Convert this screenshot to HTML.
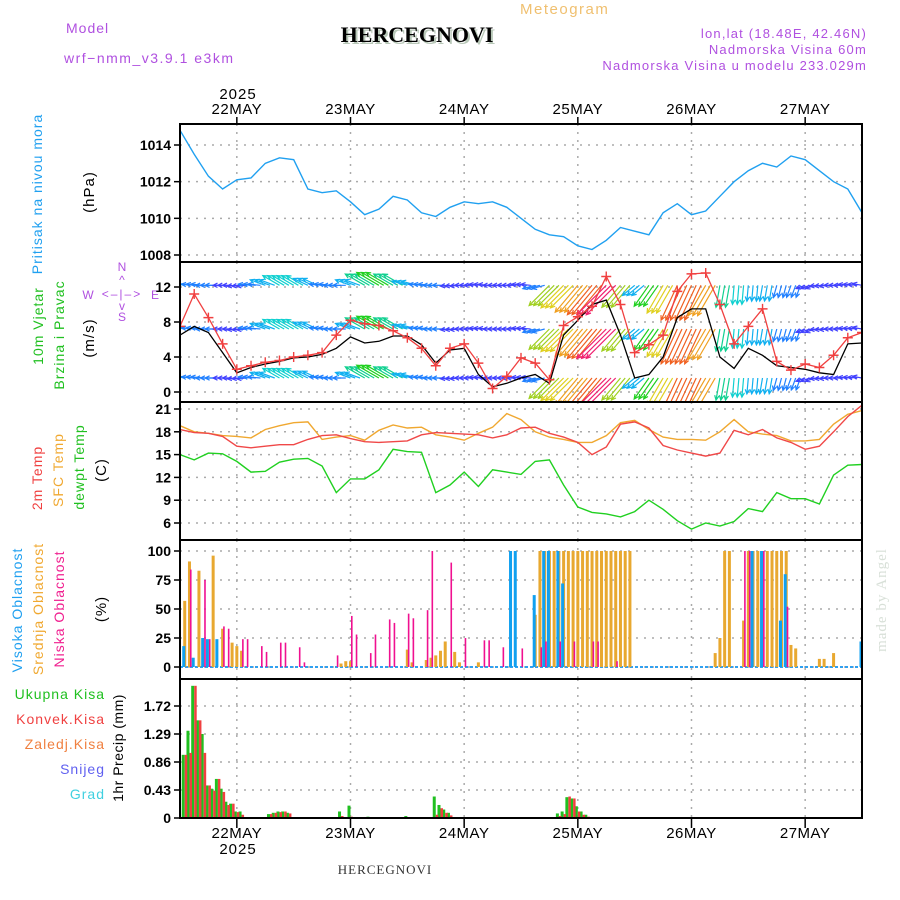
<!DOCTYPE html>
<html><head><meta charset="utf-8">
<style>
html,body{margin:0;padding:0;background:#fff;}
svg{display:block;font-family:"Liberation Sans",sans-serif;}
</style></head>
<body>
<svg id="chart" width="900" height="900" viewBox="0 0 900 900" xmlns="http://www.w3.org/2000/svg">
<rect x="0" y="0" width="900" height="900" fill="#fff"/>
<text x="66" y="33" fill="#b050e0" font-size="14" letter-spacing="1">Model</text>
<text x="64" y="63" fill="#b050e0" font-size="14" letter-spacing="1.5">wrf−nmm_v3.9.1  e3km</text>
<text x="419" y="44" fill="#b8c8b8" font-size="22" font-weight="bold" font-family="Liberation Serif,serif" text-anchor="middle">HERCEGNOVI</text>
<text x="417" y="42" fill="#000" font-size="22" font-weight="bold" font-family="Liberation Serif,serif" text-anchor="middle">HERCEGNOVI</text>
<text x="520" y="14" fill="#f0c070" font-size="15" letter-spacing="1.5">Meteogram</text>
<text x="867" y="38" fill="#b050e0" font-size="13" letter-spacing="1.2" text-anchor="end">lon,lat (18.48E, 42.46N)</text>
<text x="867" y="54" fill="#b050e0" font-size="13" letter-spacing="1.2" text-anchor="end">Nadmorska Visina 60m</text>
<text x="867" y="70" fill="#b050e0" font-size="13" letter-spacing="1.2" text-anchor="end">Nadmorska Visina u modelu 233.029m</text>
<text x="238" y="99" fill="#000" font-size="15" text-anchor="middle" letter-spacing="1">2025</text>
<text transform="translate(42,194) rotate(-90)" fill="#20a0f0" font-size="14" text-anchor="middle" letter-spacing="1">Pritisak na nivou mora</text>
<text transform="translate(94,192) rotate(-90)" fill="#000" font-size="15" text-anchor="middle" letter-spacing="1">(hPa)</text>
<text transform="translate(43,326) rotate(-90)" fill="#20c020" font-size="14" text-anchor="middle" letter-spacing="1">10m Vjetar</text>
<text transform="translate(64,335) rotate(-90)" fill="#20c020" font-size="14" text-anchor="middle" letter-spacing="1">Brzina i Pravac</text>
<text transform="translate(94,338) rotate(-90)" fill="#000" font-size="15" text-anchor="middle" letter-spacing="1">(m/s)</text>
<g fill="#b050e0" font-size="12" text-anchor="middle">
<text x="122" y="271">N</text><text x="88" y="299">W</text><text x="155" y="299">E</text><text x="122" y="321">S</text>
<text x="122" y="284">^</text><text x="122" y="310">v</text>
<text x="122" y="298" letter-spacing="2">&lt;–|–&gt;</text>
</g>
<text transform="translate(42,478) rotate(-90)" fill="#f04040" font-size="14" text-anchor="middle" letter-spacing="1">2m Temp</text>
<text transform="translate(63,470) rotate(-90)" fill="#f0a830" font-size="14" text-anchor="middle" letter-spacing="1">SFC Temp</text>
<text transform="translate(84,467) rotate(-90)" fill="#20c020" font-size="14" text-anchor="middle" letter-spacing="1">dewpt Temp</text>
<text transform="translate(106,470) rotate(-90)" fill="#000" font-size="15" text-anchor="middle" letter-spacing="1">(C)</text>
<text transform="translate(22,610) rotate(-90)" fill="#20a0f0" font-size="14" text-anchor="middle" letter-spacing="1">Visoka Oblacnost</text>
<text transform="translate(43,609) rotate(-90)" fill="#f0a830" font-size="14" text-anchor="middle" letter-spacing="1">Srednja Oblacnost</text>
<text transform="translate(64,609) rotate(-90)" fill="#f02090" font-size="14" text-anchor="middle" letter-spacing="1">Niska Oblacnost</text>
<text transform="translate(106,609) rotate(-90)" fill="#000" font-size="15" text-anchor="middle" letter-spacing="1">(%)</text>
<g font-size="14" text-anchor="end" letter-spacing="1">
<text x="105" y="699" fill="#20c020">Ukupna Kisa</text>
<text x="105" y="724" fill="#f04040">Konvek.Kisa</text>
<text x="105" y="749" fill="#f08040">Zaledj.Kisa</text>
<text x="105" y="774" fill="#6060f0">Snijeg</text>
<text x="105" y="799" fill="#40d0e0">Grad</text>
</g>
<text transform="translate(123,748) rotate(-90)" fill="#000" font-size="14" text-anchor="middle" letter-spacing="0.5">1hr Precip (mm)</text>
<text x="238" y="854" fill="#000" font-size="15" text-anchor="middle" letter-spacing="1">2025</text>
<text x="385" y="874" fill="#333" font-size="13" font-family="Liberation Serif,serif" text-anchor="middle" letter-spacing="1">HERCEGNOVI</text>
<text transform="translate(886,600) rotate(-90)" fill="#d8e0d8" font-size="15" font-family="Liberation Serif,serif" text-anchor="middle" letter-spacing="1">made by Angel</text>
<g id="plots"></g>
</svg>
<script>
const dayLabels = ["22MAY","23MAY","24MAY","25MAY","26MAY","27MAY"];
const dayHours = [12,36,60,84,108,132];
const stepHours = 3;
const pressure = [1014.8,1013.5,1012.3,1011.6,1012.1,1012.2,1013.0,1013.3,1013.2,1011.6,1011.4,1011.5,1010.9,1010.2,1010.5,1011.2,1011.0,1010.3,1010.1,1010.6,1010.9,1010.8,1010.9,1010.6,1010.0,1009.4,1009.1,1009.0,1008.5,1008.3,1008.8,1009.5,1009.3,1009.1,1010.3,1010.8,1010.2,1010.4,1011.2,1012.0,1012.6,1013.0,1012.8,1013.4,1013.2,1012.6,1012.0,1011.6,1010.3];
const pressureTicks = [1008,1010,1012,1014];
const windSpeed = [7.5,11.2,8.5,5.5,2.6,3.0,3.4,3.6,4.0,4.2,4.5,6.5,8.2,7.8,7.6,7.0,6.2,5.0,3.0,5.0,5.5,3.3,0.4,1.8,3.9,3.3,1.4,7.6,8.6,9.8,13.2,10.0,4.5,5.4,6.5,11.5,13.5,13.6,10.0,5.5,7.5,9.5,3.5,2.5,3.2,2.8,4.2,6.2,6.8];
const windGust = [6.5,7.5,6.8,4.5,2.2,2.8,3.2,3.5,3.9,4.0,4.3,5.0,6.3,5.6,5.8,6.4,6.4,5.4,3.3,4.8,5.0,2.0,0.6,1.0,1.6,2.0,1.0,6.5,8.2,10.0,10.5,6.5,1.6,2.0,4.0,8.5,9.5,9.5,4.0,2.7,5.0,4.2,3.0,2.8,2.6,2.2,2.0,5.5,5.6];
const windDir = [170,175,180,180,185,175,160,150,150,155,175,180,160,150,150,150,165,175,180,185,180,175,180,180,175,195,225,225,230,230,225,230,220,235,240,245,245,240,260,265,265,260,255,250,200,185,180,175,170];
const windMag = [5,4,4,3,3,4,5,6,6,5,4,4,5,7,8,7,5,4,4,3,3,3,3,3,3,4,9,10,11,12,13,9,5,8,10,12,12,11,7,6,5,5,4,4,3,3,3,3,3];
const windRows = [12.2,7.2,1.6];
const windTicks = [0,4,8,12];
const temp2m = [18.3,17.9,17.8,17.4,16.1,15.9,16.1,16.3,16.3,17.0,17.5,17.6,17.1,16.7,16.6,16.7,16.8,17.6,17.9,17.8,17.7,17.6,17.2,17.6,18.5,18.6,17.8,17.3,16.6,15.0,16.0,19.0,19.3,18.5,16.2,15.6,15.2,14.8,15.2,18.2,17.6,18.3,17.2,16.6,15.7,16.1,18.0,20.0,21.5];
const tempSfc = [18.8,18.0,17.8,17.5,17.4,17.2,18.3,18.8,19.2,19.3,17.0,17.3,17.5,16.9,18.2,18.9,18.5,18.6,17.6,17.3,16.9,17.8,18.6,20.4,19.6,18.0,17.3,17.0,16.6,16.6,17.5,19.2,19.5,18.3,17.3,17.0,17.0,16.9,18.0,19.6,18.0,17.7,17.5,16.8,16.8,17.0,19.0,20.3,20.8];
const tempDew = [15.0,14.3,15.2,15.1,14.1,12.7,12.8,14.0,14.4,14.5,13.5,10.0,11.8,11.8,13.0,15.7,15.4,15.3,10.0,11.0,12.7,10.8,13.0,12.7,12.4,14.1,14.3,11.0,8.1,7.4,7.2,6.8,7.5,9.0,7.8,6.3,5.2,6.0,5.6,6.2,7.9,7.5,10.0,9.2,9.2,8.5,12.3,13.6,13.7];
const tempTicks = [6,9,12,15,18,21];
const cloudMidHours = [1,2,4,7,9,11,12,13,34,35,36,48,49,52,53,54,55,56,58,59,63,75,76,77,78,79,80,81,82,83,84,85,86,87,88,89,90,91,92,93,94,95,113,114,115,116,119,120,121,122,124,125,126,127,128,129,130,135,136,138];
const cloudMid = [57,91,83,96,33,21,18,14,3,5,5,15,4,6,8,10,14,22,13,4,4,45,100,100,100,100,100,100,100,100,100,100,100,100,100,100,100,100,100,100,100,100,12,25,100,100,40,100,100,100,100,100,100,100,100,19,16,7,7,12];
const cloudHighHours = [1,3,5,6,8,70,71,75,77,78,80,81,121,123,127,128,144];
const cloudHigh = [18,8,25,24,24,100,100,62,100,100,100,72,100,100,40,80,22];
const cloudLowHours = [2,5,6,9,10,13,14,17,18,21,22,25,26,33,36,37,40,41,44,45,48,49,52,53,57,60,64,65,68,72,76,77,80,83,87,88,92,119,120,123,128];
const cloudLow = [84,75,24,35,33,24,24,18,13,21,21,17,4,10,44,28,12,28,41,38,46,42,49,100,90,25,23,23,17,16,17,22,22,22,22,22,5,100,100,100,52];
const cloudTicks = [0,25,50,75,100];
const precipHours = [1,2,3,4,5,6,7,8,9,10,11,12,13,19,20,21,22,23,34,36,40,48,54,55,56,57,80,81,82,83,84,85,86];
const precipTotal = [0.97,1.34,2.03,1.5,1.29,0.5,0.45,0.6,0.45,0.25,0.22,0.1,0.1,0.06,0.08,0.1,0.1,0.08,0.1,0.19,0.02,0.03,0.33,0.2,0.13,0.08,0.07,0.1,0.32,0.3,0.18,0.1,0.05];
const precipConv = [0.97,1.0,2.03,1.5,1.0,0.5,0.42,0.6,0.4,0.2,0.22,0.09,0.05,0.06,0.08,0.09,0.1,0.07,0.03,0.02,0.0,0.0,0.05,0.15,0.08,0.04,0.03,0.06,0.33,0.3,0.1,0.05,0.02];
const precipTicks = [0,0.43,0.86,1.29,1.72];
const precipTickLabels = ["0","0.43","0.86","1.29","1.72"];

const X0 = 180, X1 = 862, HOURS = 144;
const NS = "http://www.w3.org/2000/svg";
const root = document.getElementById("plots");
function xh(h){ return X0 + (X1 - X0) * h / HOURS; }
function lin(d0,d1,r0,r1){ return v => r0 + (v - d0) * (r1 - r0) / (d1 - d0); }
function mk(tag, attrs, parent){
  const e = document.createElementNS(NS, tag);
  for (const k in attrs) e.setAttribute(k, attrs[k]);
  (parent || root).appendChild(e);
  return e;
}
const panels = [
  {name:"pressure-panel", top:124, bot:262, y: lin(1008,1014,255,145), ticks:pressureTicks},
  {name:"wind-panel", top:262, bot:402, y: lin(0,12,392,287), ticks:windTicks},
  {name:"temperature-panel", top:402, bot:540, y: lin(6,21,523,409), ticks:tempTicks},
  {name:"cloud-panel", top:540, bot:679, y: lin(0,100,667,551), ticks:cloudTicks},
  {name:"precip-panel", top:679, bot:818, y: lin(0,1.72,818,706), ticks:precipTicks, labels:precipTickLabels}
];
panels.forEach((p, pi) => {
  const g = mk("g", {});
  
  
  p.g = g;
  const clip = mk("clipPath", {id:"clip"+pi}, g);
  mk("rect", {x:X0, y:p.top, width:X1-X0, height:p.bot-p.top}, clip);
  dayHours.forEach(h => {
    const l = mk("line", {x1:xh(h), x2:xh(h), y1:p.top, y2:p.bot + (pi===4?5:0), stroke:"#aaa", "stroke-width":1.5, "stroke-dasharray":"2,6"}, g);
    
    
  });
  p.ticks.forEach((t, i) => {
    const yy = p.y(t);
    const l = mk("line", {x1:X0, x2:X1, y1:yy, y2:yy, stroke:"#aaa", "stroke-width":1.5, "stroke-dasharray":"2,6"}, g);
    
    
    mk("line", {x1:X0-6, x2:X0, y1:yy, y2:yy, stroke:"#000", "stroke-width":1.5}, g);
    const tx = mk("text", {x:X0-9, y:yy+5, "text-anchor":"end", "font-size":14, "font-weight":"bold", fill:"#000"}, g);
    tx.textContent = p.labels ? p.labels[i] : String(t);
    
    
  });
  p.plot = mk("g", {"clip-path":"url(#clip"+pi+")"}, g);
});
function line(p, arr, color, name, w){
  const pts = arr.map((v,i) => xh(i*stepHours).toFixed(1)+","+p.y(v).toFixed(1)).join(" ");
  const l = mk("polyline", {points:pts, fill:"none", stroke:color, "stroke-width":w||1.4}, p.plot);
  
  
  return l;
}
line(panels[0], pressure, "#20a0f0", "pressure-line");
const wp = panels[1];
const magColors = ["#6010e0","#6010e0","#6010e0","#4040ff","#2080ff","#10b0f0","#10d0d0","#10d090","#20d020","#a0d020","#e0d020","#f0a020","#f06020","#f02070"];
windRows.forEach(rv => {
  const by = wp.y(rv);
  windDir.forEach((d, i) => {
    for (let k = 0; k < 3; k++){
      const h = i*stepHours + k;
      if (h > HOURS) continue;
      const x = xh(h), L = windMag[i]*3.2, a = d*Math.PI/180;
      const ex = x + L*Math.cos(a), ey = by - L*Math.sin(a);
      const col = magColors[Math.min(windMag[i],13)];
      const a1 = a + Math.PI - 0.45, a2 = a + Math.PI + 0.45;
      const pl = mk("path", {d:`M${x.toFixed(1)},${by.toFixed(1)}L${ex.toFixed(1)},${ey.toFixed(1)}M${(ex+5*Math.cos(a1)).toFixed(1)},${(ey-5*Math.sin(a1)).toFixed(1)}L${ex.toFixed(1)},${ey.toFixed(1)}L${(ex+5*Math.cos(a2)).toFixed(1)},${(ey-5*Math.sin(a2)).toFixed(1)}`, stroke:col, "stroke-width":1.2, fill:"none"}, wp.plot);
      
      
    }
  });
});
line(wp, windGust, "#000", "wind-gust-line", 1.3);
line(wp, windSpeed, "#f04040", "wind-speed-line", 1.3);
windSpeed.forEach((v,i) => {
  const x = xh(i*stepHours), y = wp.y(v);
  const m = mk("path", {d:`M${x-5},${y}h10M${x},${y-5}v10`, stroke:"#f04040", "stroke-width":1.4}, wp.plot);
  
  
});
line(panels[2], tempSfc, "#f0a830", "sfc-temp-line");
line(panels[2], temp2m, "#f04848", "temp-2m-line");
line(panels[2], tempDew, "#20d020", "dewpoint-line");
const cp = panels[3];
function bars(p, hours, vals, color, w, off, name){
  hours.forEach((h,i) => {
    const y = p.y(vals[i]), y0 = p.y(0);
    const r = mk("rect", {x:xh(h)+off, y:y, width:w, height:Math.max(0,y0-y), fill:color}, p.plot);
    
    
  });
}
mk("line", {x1:X0, x2:X1, y1:cp.y(0), y2:cp.y(0), stroke:"#30a0f0", "stroke-width":2, "stroke-dasharray":"3,2"}, cp.plot);
bars(cp, cloudMidHours, cloudMid, "#e8a830", 3, -1.5, "mid-cloud-bar");
bars(cp, cloudHighHours, cloudHigh, "#10a0f0", 3, -2.5, "high-cloud-bar");
bars(cp, cloudLowHours, cloudLow, "#f01090", 1.6, 0.5, "low-cloud-bar");
const pp = panels[4];
bars(pp, precipHours, precipTotal, "#20c020", 3, -3, "total-precip-bar");
bars(pp, precipHours, precipConv, "#f04040", 2.5, 0, "conv-precip-bar");
mk("line", {x1:X0, x2:X1, y1:818, y2:818, stroke:"#000", "stroke-width":1, "stroke-dasharray":"4,2"}, pp.plot);
panels.forEach(p => {
  const b = mk("rect", {x:X0, y:p.top, width:X1-X0, height:p.bot-p.top, fill:"none", stroke:"#000", "stroke-width":2}, p.g);
  
  
});
dayHours.forEach((h,i) => {
  [[114,124,117],[838,818,828]].forEach(([ty,t0,t1]) => {
    const t = mk("text", {x:xh(h), y:ty, "text-anchor":"middle", "font-size":15, fill:"#000", "letter-spacing":"0.5"});
    t.textContent = dayLabels[i];
    
    
    mk("line", {x1:xh(h), x2:xh(h), y1:t0, y2:t1, stroke:"#000", "stroke-width":1.5});
  });
});
</script>
</body></html>
